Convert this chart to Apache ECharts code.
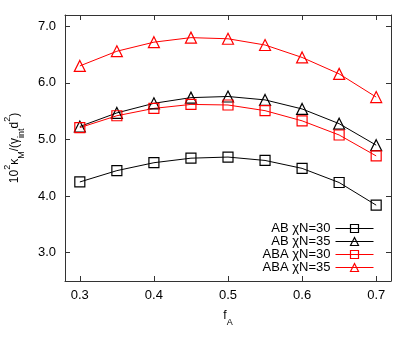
<!DOCTYPE html>
<html>
<head>
<meta charset="utf-8">
<script src="https://cdn.jsdelivr.net/npm/echarts@6/dist/echarts.min.js"></script>
<style>
  html, body { margin: 0; padding: 0; background: #fff; }
  #chart { width: 415px; height: 338px; }
</style>
</head>
<body>
<div id="chart"></div>
<script>
// f_A values
var fA = [0.3, 0.35, 0.4, 0.45, 0.5, 0.55, 0.6, 0.65, 0.7];

// 10^2 kappa_M / (gamma_int d^2)
var abN30  = [4.25, 4.45, 4.59, 4.67, 4.69, 4.63, 4.49, 4.24, 3.84];
var abN35  = [5.23, 5.47, 5.64, 5.74, 5.76, 5.70, 5.54, 5.28, 4.90];
var abaN30 = [5.21, 5.42, 5.55, 5.62, 5.61, 5.51, 5.33, 5.08, 4.71];
var abaN35 = [6.30, 6.56, 6.72, 6.80, 6.78, 6.67, 6.45, 6.16, 5.75];

var xTicks = [0.3, 0.4, 0.5, 0.6, 0.7];
var yTicks = [3.0, 4.0, 5.0, 6.0, 7.0];

var font = 'Liberation Sans';
var frame = '#333';

function pairs(vals) {
    return fA.map(function (x, i) { return [x, vals[i]]; });
}

function mkSeries(name, vals, color, symbol) {
    return {
        name: name,
        type: 'line',
        data: pairs(vals),
        symbol: symbol,
        symbolSize: symbol === 'rect' ? 10 : 11,
        showAllSymbol: true,
        lineStyle: { color: color, width: 1 },
        itemStyle: { color: 'transparent', borderColor: color, borderWidth: 1.2 },
        emphasis: { disabled: true },
        animation: false
    };
}

function xAx(pos, labels) {
    return {
        type: 'value', position: pos, min: 0.28, max: 0.72,
        axisLine: { show: true, onZero: false, lineStyle: { color: frame, width: 1 } },
        axisTick: { show: true, inside: true, length: 5, lineStyle: { color: frame },
            customValues: xTicks },
        axisLabel: { show: labels, customValues: xTicks, color: '#000', fontFamily: font, fontSize: 13, margin: 8,
            formatter: function (v) { return v.toFixed(1); } },
        splitLine: { show: false },
        name: labels ? '{t|f}{s|A}' : '',
        nameLocation: 'middle',
        nameGap: 26,
        nameTextStyle: { rich: {
            t: { fontFamily: font, fontSize: 12, color: '#000', lineHeight: 17 },
            s: { fontFamily: font, fontSize: 9, color: '#000', lineHeight: 9, verticalAlign: 'bottom', padding: [0, 0, -3, 0] }
        } }
    };
}

function yAx(pos, labels) {
    return {
        type: 'value', position: pos, min: 2.5, max: 7.2,
        axisLine: { show: true, onZero: false, lineStyle: { color: frame, width: 1 } },
        axisTick: { show: true, inside: true, length: 5, lineStyle: { color: frame },
            customValues: yTicks },
        axisLabel: { show: labels, customValues: yTicks, color: '#000', fontFamily: font, fontSize: 13, margin: 9,
            formatter: function (v) { return v.toFixed(1); } },
        splitLine: { show: false },
        name: labels ? '{t|10}{p|2}{t|κ}{s|M}{t|/(γ}{s|int}{t|d}{p|2}{t|)}' : '',
        nameLocation: 'middle',
        nameRotate: 90,
        nameGap: 42,
        nameTextStyle: { rich: {
            t: { fontFamily: font, fontSize: 12, color: '#000', lineHeight: 17 },
            p: { fontFamily: font, fontSize: 9, color: '#000', lineHeight: 9, verticalAlign: 'top', padding: [-3, 0, 0, 0] },
            s: { fontFamily: font, fontSize: 9, color: '#000', lineHeight: 9, verticalAlign: 'bottom', padding: [0, 0, -3, 0] }
        } }
    };
}

var chart = echarts.init(document.getElementById('chart'), null, { renderer: 'canvas' });
chart.setOption({
    backgroundColor: '#fff',
    animation: false,
    grid: { left: 65, right: 24, top: 15, bottom: 57, containLabel: false, outerBoundsMode: 'none' },
    xAxis: [xAx('bottom', true), xAx('top', false)],
    yAxis: [yAx('left', true), yAx('right', false)],
    legend: {
        orient: 'vertical',
        right: 41,
        bottom: 64,
        align: 'right',
        itemWidth: 38,
        itemHeight: 10,
        itemGap: 0,
        padding: 0,
        selectedMode: false,
        lineStyle: { width: 1 },
        itemStyle: { borderWidth: 1.2 },
        textStyle: { fontFamily: font, fontSize: 13, lineHeight: 13, color: '#000', padding: [0, 0, 0, 0] },
        data: ['AB χN=30', 'AB χN=35', 'ABA χN=30', 'ABA χN=35']
    },
    series: [
        mkSeries('AB χN=30', abN30, '#000', 'rect'),
        mkSeries('AB χN=35', abN35, '#000', 'triangle'),
        mkSeries('ABA χN=30', abaN30, '#ff0000', 'rect'),
        mkSeries('ABA χN=35', abaN35, '#ff0000', 'triangle')
    ]
});
</script>
</body>
</html>
